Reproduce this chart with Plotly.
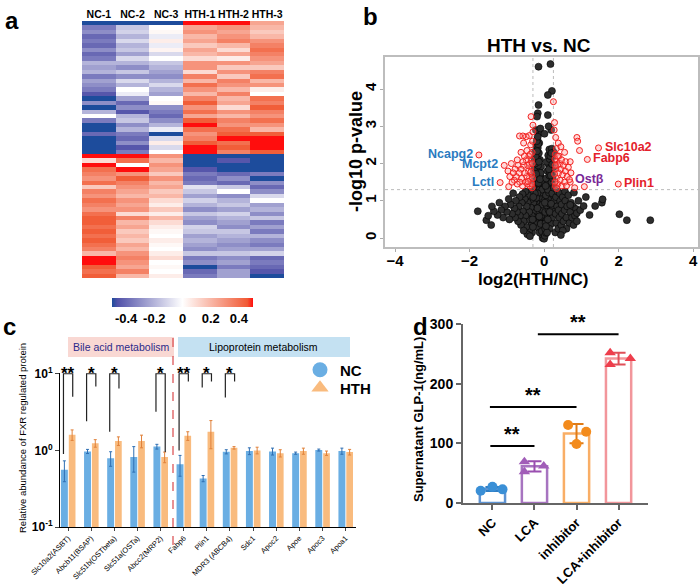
import plotly.graph_objects as go

W, H = 700, 584
FONT = "Arial, Liberation Sans, sans-serif"


def fx(p):
    return p / W


def fy(p):
    return 1 - p / H


# ---------------------------------------------------------------------------
# a: heatmap (rows top -> bottom, columns NC-1..HTH-3)
# ---------------------------------------------------------------------------
hm_cols = ["NC-1", "NC-2", "NC-3", "HTH-1", "HTH-2", "HTH-3"]
hm_upper = [
    [-0.6, -0.6, -0.6, 0.6, 0.6, 0.25],
    [-0.35, -0.15, 0.0, 0.25, 0.3, 0.2],
    [-0.3, -0.12, 0.02, 0.3, 0.25, 0.15],
    [-0.4, -0.2, -0.05, 0.2, 0.3, 0.2],
    [-0.35, -0.1, 0.05, 0.25, 0.35, 0.3],
    [-0.4, -0.2, -0.05, 0.15, 0.2, 0.35],
    [-0.3, -0.15, 0.03, 0.25, 0.1, 0.4],
    [-0.4, -0.25, -0.1, 0.2, 0.25, 0.35],
    [-0.35, -0.1, 0.0, 0.1, 0.05, 0.3],
    [-0.2, -0.2, -0.15, 0.3, 0.3, 0.25],
    [-0.25, -0.3, -0.2, 0.3, 0.15, 0.15],
    [-0.2, -0.15, -0.25, 0.1, 0.3, 0.35],
    [-0.35, -0.3, -0.3, 0.35, 0.15, 0.4],
    [-0.25, -0.1, -0.2, 0.2, 0.35, 0.2],
    [-0.3, -0.2, -0.1, 0.4, 0.3, 0.3],
    [-0.35, 0.0, -0.2, 0.3, 0.2, 0.05],
    [-0.45, -0.05, -0.25, 0.2, 0.35, 0.0],
    [-0.6, -0.25, 0.0, 0.35, 0.2, 0.4],
    [-0.3, -0.4, 0.02, 0.45, 0.25, 0.35],
    [-0.5, -0.3, -0.3, 0.3, 0.1, 0.45],
    [-0.2, -0.45, -0.35, 0.4, 0.3, 0.35],
    [0.0, -0.2, -0.4, 0.25, 0.2, 0.3],
    [-0.35, -0.15, -0.3, 0.45, 0.35, 0.4],
    [-0.6, -0.3, -0.2, 0.5, 0.3, 0.3],
    [-0.6, -0.2, -0.05, 0.4, 0.4, 0.2],
    [-0.4, -0.35, -0.55, 0.3, 0.45, 0.45],
    [-0.6, -0.4, -0.1, 0.35, 0.5, 0.6],
    [-0.6, -0.3, 0.05, 0.45, 0.4, 0.5],
    [-0.6, -0.45, -0.1, 0.5, 0.45, 0.6],
    [-0.6, -0.35, 0.0, 0.6, 0.35, 0.45],
]
hm_lower = [
    [0.5, 0.6, 0.3, -0.6, -0.5, -0.6],
    [0.1, 0.4, 0.2, -0.55, -0.45, -0.6],
    [0.6, 0.0, 0.3, -0.6, -0.5, -0.6],
    [0.4, 0.5, 0.25, -0.45, -0.55, -0.5],
    [0.35, 0.3, 0.15, -0.35, -0.4, -0.35],
    [0.3, 0.45, 0.3, -0.4, -0.3, -0.6],
    [0.4, 0.35, 0.2, -0.35, -0.4, -0.3],
    [0.15, 0.3, 0.25, -0.08, -0.15, -0.4],
    [0.35, 0.25, 0.15, -0.15, 0.0, -0.3],
    [0.3, 0.2, 0.2, -0.25, -0.3, -0.1],
    [0.4, 0.3, 0.1, -0.12, -0.2, 0.0],
    [0.35, 0.25, 0.05, -0.2, -0.15, -0.25],
    [0.3, 0.3, 0.15, -0.3, -0.25, -0.2],
    [0.4, 0.1, 0.05, -0.15, -0.12, -0.3],
    [0.45, 0.35, 0.2, -0.25, -0.2, -0.15],
    [0.45, 0.2, 0.1, -0.3, -0.25, -0.35],
    [0.4, 0.25, 0.05, -0.12, -0.3, -0.25],
    [0.45, 0.15, 0.02, -0.15, -0.15, -0.35],
    [0.4, 0.2, 0.0, -0.25, -0.2, -0.2],
    [0.45, 0.15, 0.05, -0.2, -0.25, -0.3],
    [0.4, 0.25, 0.02, -0.25, -0.3, -0.35],
    [0.35, 0.2, 0.0, -0.3, -0.25, -0.25],
    [0.2, 0.3, 0.05, -0.15, -0.15, -0.12],
    [0.6, 0.35, 0.1, -0.35, -0.3, -0.4],
    [0.6, 0.3, 0.0, -0.3, -0.25, -0.35],
    [0.45, 0.25, 0.02, -0.6, -0.35, -0.4],
    [0.4, 0.35, 0.0, -0.4, -0.25, -0.45],
    [0.45, 0.2, 0.05, -0.35, -0.25, -0.5],
]
hm_rows = hm_upper + hm_lower
hm_ticks = [-0.4, -0.2, 0, 0.2, 0.4]

# ---------------------------------------------------------------------------
# b: volcano plot (log2 fold change, -log10 p)
# ---------------------------------------------------------------------------
ns_points = [
    # left lobe of the core
    (-0.04, 0.0), (-0.02, 0.08), (-0.06, 0.1), (-0.08, 0.22), (-0.04, 0.3), (-0.11, 0.32),
    (-0.07, 0.42), (-0.14, 0.45), (-0.1, 0.55), (-0.05, 0.6), (-0.17, 0.6), (-0.13, 0.7),
    (-0.2, 0.72), (-0.08, 0.78), (-0.16, 0.85), (-0.23, 0.88), (-0.11, 0.95), (-0.19, 1.0),
    (-0.26, 1.02), (-0.06, 1.05), (-0.14, 1.1), (-0.22, 1.15), (-0.09, 1.22), (-0.28, 1.25),
    (-0.17, 1.28), (-0.24, 1.38), (-0.12, 1.4), (-0.2, 1.48), (-0.07, 1.5), (-0.28, 1.52),
    (-0.15, 1.58), (-0.23, 1.65), (-0.1, 1.68), (-0.19, 1.75), (-0.27, 1.8), (-0.13, 1.85),
    (-0.08, 1.92), (-0.22, 1.95), (-0.17, 2.02), (-0.26, 2.08), (-0.11, 2.1), (-0.2, 2.2),
    (-0.14, 2.28), (-0.24, 2.32), (-0.17, 2.42), (-0.21, 2.5), (-0.13, 2.55), (-0.18, 2.65),
    (-0.15, 2.8), (-0.22, 2.9), (-0.12, 1.3), (-0.25, 1.9), (-0.16, 1.95), (-0.05, 1.3),
    (-0.04, 0.9), (-0.29, 0.95), (-0.3, 0.7), (-0.25, 0.55), (-0.2, 0.4), (-0.16, 0.28),
    (-0.12, 0.15), (-0.27, 0.4), (-0.22, 1.55), (-0.09, 1.75), (-0.18, 1.2),
    (-0.06, 0.18), (-0.09, 0.38), (-0.13, 0.58), (-0.18, 0.8), (-0.21, 1.08), (-0.25, 1.2),
    (-0.26, 1.6), (-0.21, 1.72), (-0.15, 1.48), (-0.11, 1.58), (-0.24, 2.0), (-0.19, 2.12),
    (-0.14, 2.05), (-0.23, 2.2), (-0.19, 2.33), (-0.16, 2.52), (-0.2, 2.6), (-0.17, 2.72),
    # right lobe of the core
    (0.0, -0.02), (0.02, 0.06), (0.05, 0.14), (0.03, 0.25), (0.08, 0.3), (0.11, 0.4),
    (0.06, 0.48), (0.14, 0.52), (0.09, 0.62), (0.17, 0.65), (0.03, 0.7), (0.12, 0.75),
    (0.2, 0.8), (0.07, 0.88), (0.15, 0.92), (0.23, 0.98), (0.1, 1.05), (0.18, 1.1),
    (0.25, 1.15), (0.05, 1.15), (0.13, 1.22), (0.21, 1.3), (0.08, 1.35), (0.16, 1.4),
    (0.24, 1.45), (0.11, 1.52), (0.19, 1.58), (0.06, 1.6), (0.14, 1.68), (0.22, 1.72),
    (0.09, 1.8), (0.17, 1.85), (0.25, 1.9), (0.12, 1.98), (0.2, 2.02), (0.07, 2.05),
    (0.15, 2.12), (0.23, 2.18), (0.11, 2.22), (0.18, 2.3), (0.14, 2.38), (0.21, 2.4),
    (0.26, 2.3), (0.04, 0.4), (0.22, 0.55), (0.26, 0.7), (0.18, 0.38), (0.14, 0.25),
    (0.08, 0.15), (0.27, 1.0), (0.2, 1.5), (0.1, 1.3), (0.16, 1.75), (0.04, 1.4), (0.02, 0.95),
    (0.05, 0.32), (0.1, 0.5), (0.15, 0.7), (0.19, 0.92), (0.22, 1.2), (0.26, 1.35),
    (0.23, 1.6), (0.18, 1.68), (0.13, 1.85), (0.22, 1.98), (0.17, 2.2), (0.2, 2.28),
    # non-significant spread, left
    (-0.32, 0.15), (-0.35, 0.35), (-0.33, 0.6), (-0.36, 0.82), (-0.34, 1.05), (-0.38, 1.25),
    (-0.4, 0.2), (-0.42, 0.5), (-0.4, 0.7), (-0.44, 0.95), (-0.43, 1.15), (-0.48, 0.3),
    (-0.5, 0.6), (-0.47, 0.85), (-0.52, 1.05), (-0.5, 1.25), (-0.55, 0.45), (-0.57, 0.72),
    (-0.6, 0.95), (-0.58, 1.18), (-0.62, 0.35), (-0.65, 0.6), (-0.68, 0.85), (-0.66, 1.1),
    (-0.7, 0.45), (-0.73, 0.7), (-0.76, 1.0), (-0.78, 0.55), (-0.8, 0.8), (-0.83, 1.2),
    (-0.86, 0.65), (-0.9, 0.9), (-0.93, 0.5), (-0.95, 1.05), (-1.0, 0.7), (-1.05, 0.85),
    (-1.1, 0.55), (-1.15, 0.75), (-1.2, 0.95), (-1.25, 0.62), (-1.35, 0.72), (-1.4, 0.85),
    (-1.42, 0.35), (-1.55, 0.48), (-1.5, 0.6), (-1.78, 0.72), (-0.3, 0.3), (-0.31, 0.5),
    (-0.29, 1.1), (-0.45, 0.1), (-0.55, 0.2), (-0.38, 0.05),
    # non-significant spread, right
    (0.3, 0.15), (0.33, 0.4), (0.31, 0.65), (0.35, 0.85), (0.32, 1.1), (0.36, 1.25),
    (0.38, 0.25), (0.41, 0.55), (0.39, 0.75), (0.43, 1.0), (0.42, 1.2), (0.46, 0.35),
    (0.48, 0.65), (0.47, 0.9), (0.5, 1.1), (0.52, 0.45), (0.55, 0.75), (0.57, 1.0),
    (0.56, 1.25), (0.6, 0.55), (0.62, 0.85), (0.65, 1.15), (0.68, 0.4), (0.7, 0.7),
    (0.72, 0.95), (0.75, 0.55), (0.78, 0.85), (0.8, 1.22), (0.83, 0.6), (0.86, 0.78),
    (0.88, 0.67), (0.92, 1.0), (0.97, 0.75), (1.06, 0.86), (1.12, 1.1), (1.22, 0.62),
    (1.37, 0.86), (1.55, 0.95), (1.57, 1.04), (2.02, 0.64), (2.22, 0.48), (2.85, 0.48),
    (0.79, 0.35), (0.7, 0.89), (0.88, 0.45), (0.6, 0.25), (0.5, 0.2), (0.45, 0.08),
    # high points inside the fold-change cut-off
    (-0.15, 4.6), (0.17, 4.67), (0.21, 3.95), (0.1, 3.84), (-0.15, 3.57), (-0.17, 3.35),
    (-0.19, 3.26), (0.1, 3.3), (-0.1, 2.94), (0.19, 2.9), (0.01, 2.8), (0.12, 3.0),
]
sig_points = [
    # down-regulated
    (-0.32, 1.35), (-0.35, 1.5), (-0.33, 1.7), (-0.36, 1.9), (-0.34, 2.1), (-0.32, 2.3),
    (-0.38, 1.4), (-0.4, 1.6), (-0.42, 1.8), (-0.39, 2.0), (-0.41, 2.2), (-0.45, 1.45),
    (-0.47, 1.65), (-0.44, 1.95), (-0.48, 2.1), (-0.46, 2.35), (-0.5, 1.5), (-0.52, 1.75),
    (-0.55, 1.95), (-0.53, 2.2), (-0.58, 1.4), (-0.6, 1.6), (-0.62, 1.85), (-0.57, 2.05),
    (-0.65, 1.5), (-0.67, 1.75), (-0.7, 1.95), (-0.72, 1.45), (-0.75, 1.65), (-0.78, 1.85),
    (-0.8, 1.55), (-0.83, 1.75), (-0.86, 1.5), (-0.88, 2.0), (-0.92, 1.65), (-0.95, 1.38),
    (-0.97, 1.8), (-0.36, 2.5), (-0.31, 2.6), (-0.4, 2.75), (-0.48, 2.72), (-0.57, 2.74),
    (-0.66, 2.74), (-0.55, 2.55), (-0.35, 3.26), (-0.3, 3.03), (-0.3, 2.85), (-0.62, 2.3),
    (-0.72, 2.1), (-1.75, 2.23), (-1.07, 1.95), (-1.18, 1.49),
    (-0.31, 1.6), (-0.33, 1.45), (-0.35, 1.78), (-0.32, 2.0), (-0.37, 2.25), (-0.43, 1.52),
    # up-regulated
    (0.3, 1.4), (0.33, 1.6), (0.31, 1.85), (0.34, 2.05), (0.3, 2.25), (0.37, 1.45),
    (0.39, 1.75), (0.36, 1.95), (0.4, 2.2), (0.43, 1.55), (0.45, 1.85), (0.42, 2.0),
    (0.48, 1.4), (0.5, 1.7), (0.47, 2.1), (0.52, 1.95), (0.55, 1.5), (0.57, 1.8),
    (0.6, 1.4), (0.62, 1.65), (0.58, 2.05), (0.65, 1.9), (0.7, 1.5), (0.72, 1.75),
    (0.33, 2.4), (0.38, 2.55), (0.31, 2.7), (0.27, 2.9), (0.25, 3.66), (0.28, 3.1),
    (0.45, 2.45), (0.55, 2.3), (0.7, 2.05), (0.88, 2.7), (0.9, 2.6), (0.95, 2.35),
    (1.16, 2.11), (1.46, 2.42), (1.99, 1.45), (1.08, 1.38), (0.82, 1.35), (0.68, 1.57),
    (0.29, 1.5), (0.28, 1.72), (0.3, 1.95), (0.29, 2.12), (0.34, 1.33), (0.36, 2.2),
]
ns_x = [p[0] for p in ns_points]
ns_y = [p[1] for p in ns_points]
sig_x = [p[0] for p in sig_points]
sig_y = [p[1] for p in sig_points]

gene_labels = ["Ncapg2", "Mcpt2", "Lctl", "Slc10a2", "Fabp6", "Ostβ", "Plin1"]
gene_x = [-1.75, -1.07, -1.18, 1.46, 1.16, 0.68, 1.99]
gene_y = [2.23, 1.95, 1.49, 2.42, 2.11, 1.57, 1.45]
gene_side = ["left", "left", "left", "right", "right", "right", "right"]
gene_color = ["#2A7BC0", "#2A7BC0", "#2A7BC0", "#E3222B", "#E3222B", "#7A2796", "#E3222B"]
fc_cut = [-0.3, 0.25]
p_cut = 1.3

# ---------------------------------------------------------------------------
# c: FXR regulated proteins (relative abundance, log axis)
# ---------------------------------------------------------------------------
proteins = ["Slc10a2(ASBT)", "Abcb11(BSAP)", "Slc51b(OSTbeta)", "Slc51a(OSTa)", "Abcc2(MRP2)",
            "Fabp6", "Plin1", "MDR3 (ABCB4)", "Sdc1", "Apoc2", "Apoe", "Apoc3", "Apoa1"]
nc_mean = [0.56, 0.97, 0.79, 0.82, 1.12, 0.66, 0.43, 0.96, 0.98, 0.97, 0.92, 1.01, 0.98]
nc_err = [0.17, 0.06, 0.17, 0.30, 0.08, 0.20, 0.04, 0.06, 0.10, 0.10, 0.03, 0.03, 0.09]
hth_mean = [1.60, 1.24, 1.33, 1.33, 0.82, 1.55, 1.75, 1.08, 1.00, 0.92, 0.98, 0.92, 0.95]
hth_err = [0.25, 0.14, 0.17, 0.25, 0.13, 0.20, 0.70, 0.04, 0.10, 0.10, 0.09, 0.06, 0.08]
# significance brackets: (protein index, left leg start, right leg end, stars)
sig_brackets = [(0, 0.9, 5.0, "**"), (1, 2.4, 6.8, "*"), (2, 1.75, 6.4, "*"),
                (4, 3.2, 0.95, "*"), (5, 1.0, 7.9, "**"), (6, 6.6, 7.9, "*"), (7, 4.9, 7.9, "*")]
bracket_top = 10

# ---------------------------------------------------------------------------
# d: supernatant GLP-1
# ---------------------------------------------------------------------------
groups = ["NC", "LCA", "inhibitor", "LCA+inhibitor"]
glp_mean = [23.6, 61.5, 116.3, 242.0]
glp_sd = [3.4, 8.5, 16.0, 10.0]
glp_reps = [[20.6, 27.3, 22.9], [69.0, 62.0, 52.5], [130.7, 119.5, 98.8], [252.0, 242.0, 232.0]]
glp_jitter = [[-0.28, 0.0, 0.24], [-0.24, 0.22, -0.24], [-0.2, 0.23, 0.0], [-0.2, 0.28, -0.2]]
glp_symbol = ["circle", "triangle-up", "circle", "triangle-up"]
glp_bar_col = ["#5E93D2", "#A774C0", "#F9AE66", "#F2969B"]
glp_pt_col = ["#3A8FD6", "#A15DB8", "#F38B1C", "#EE3E4C"]
glp_err_col = ["#2F7EC4", "#9A4FB0", "#E07B16", "#E04F58"]
# comparisons: (x start, x end, y, label)
glp_comparisons = [(-0.05, 1.0, 95.5, "**"), (-0.06, 2.0, 161, "**"), (1.08, 3.0, 283, "**")]

fig = go.Figure()

# a
fig.add_trace(go.Heatmap(
    z=hm_rows, x=hm_cols, y=list(range(len(hm_rows))), xaxis="x", yaxis="y",
    zmin=-0.5, zmax=0.5,
    colorscale=[[0, "#1D4C9C"], [0.04, "#5252A9"], [0.5, "#FFFFFF"],
                [0.96, "#F15A35"], [1, "#FF0D0D"]],
    colorbar=dict(orientation="h", x=fx(182.5), xanchor="center", y=fy(288), yanchor="top",
                  len=161 / W, lenmode="fraction", thickness=9, outlinewidth=0,
                  tickvals=hm_ticks, ticktext=["-0.4", "-0.2", "0", "0.2", "0.4"], ticks="",
                  tickfont=dict(family=FONT, size=13, color="black", weight="bold")),
))

# b
fig.add_trace(go.Scatter(
    x=ns_x, y=ns_y, mode="markers", xaxis="x2", yaxis="y2", showlegend=False,
    marker=dict(size=7, color="#2E2E2E", line=dict(color="#000000", width=0.6)),
))
fig.add_trace(go.Scatter(
    x=sig_x, y=sig_y, mode="markers", xaxis="x2", yaxis="y2", showlegend=False,
    marker=dict(size=6, color="rgba(255,150,150,0.35)", line=dict(color="#F2201E", width=1)),
))

# c
fig.add_trace(go.Bar(
    x=list(range(len(proteins))), y=nc_mean, xaxis="x3", yaxis="y3", name="NC",
    width=0.3, offset=-0.31, marker=dict(color="#6AAEE3", line=dict(width=0)),
    error_y=dict(type="data", array=nc_err, color="#2F6FB3", thickness=1, width=1.5),
    showlegend=False,
))
fig.add_trace(go.Bar(
    x=list(range(len(proteins))), y=hth_mean, xaxis="x3", yaxis="y3", name="HTH",
    width=0.29, offset=0.03, marker=dict(color="#F9BB7E", line=dict(width=0)),
    error_y=dict(type="data", array=hth_err, color="#E0813A", thickness=1, width=1.5),
    showlegend=False,
))
for idx, left_y, right_y, stars in sig_brackets:
    fig.add_trace(go.Scatter(
        x=[idx - 0.2, idx - 0.2, idx + 0.2, idx + 0.2],
        y=[left_y, bracket_top, bracket_top, right_y],
        mode="lines", xaxis="x3", yaxis="y3", showlegend=False, hoverinfo="skip",
        line=dict(color="#222222", width=1.2),
    ))
fig.add_trace(go.Scatter(
    x=[None], y=[None], mode="markers", xaxis="x3", yaxis="y3", name="NC", legend="legend",
    marker=dict(symbol="circle", size=15, color="#6AAEE3"),
))
fig.add_trace(go.Scatter(
    x=[None], y=[None], mode="markers", xaxis="x3", yaxis="y3", name="HTH", legend="legend2",
    marker=dict(symbol="triangle-up", size=15, color="#F9BB7E"),
))

# d
for i, g in enumerate(groups):
    fig.add_trace(go.Bar(
        x=[i], y=[glp_mean[i]], xaxis="x4", yaxis="y4", width=0.6, showlegend=False,
        marker=dict(color="white", line=dict(color=glp_bar_col[i], width=2.5)),
        error_y=dict(type="data", array=[glp_sd[i]], color=glp_err_col[i], thickness=2, width=7),
    ))
    fig.add_trace(go.Scatter(
        x=[i + j for j in glp_jitter[i]], y=glp_reps[i], mode="markers",
        xaxis="x4", yaxis="y4", showlegend=False,
        marker=dict(symbol=glp_symbol[i], size=10, color=glp_pt_col[i]),
    ))
for x0, x1, yv, lab in glp_comparisons:
    fig.add_trace(go.Scatter(
        x=[x0, x1], y=[yv, yv], mode="lines", xaxis="x4", yaxis="y4", showlegend=False,
        line=dict(color="black", width=2),
    ))

annotations = []
shapes = []


def paper_text(text, px, py, size, color="black", angle=0):
    return dict(text=text, x=fx(px), y=fy(py), xref="paper", yref="paper", showarrow=False,
                xanchor="center", yanchor="middle", textangle=angle,
                font=dict(family=FONT, size=size, color=color))


# panel letters
for letter, (lx, ly) in zip("abcd", [(12, 20), (370, 17), (9, 326), (420, 326)]):
    annotations.append(paper_text(f"<b>{letter}</b>", lx, ly, 24))

# b titles and gene labels
annotations.append(paper_text("<b>HTH vs. NC</b>", 539, 45, 19))
annotations.append(paper_text("<b>log2(HTH/NC)</b>", 533, 280, 17))
annotations.append(paper_text("<b>-log10 p-value</b>", 356, 152, 18, angle=-90))
for lab, gx, gy, side, col in zip(gene_labels, gene_x, gene_y, gene_side, gene_color):
    annotations.append(dict(text=f"<b>{lab}</b>", x=gx, y=gy, xref="x2", yref="y2",
                            showarrow=False, xanchor="right" if side == "left" else "left",
                            yanchor="middle",
                            xshift=-4 if side == "left" else 4, yshift=1,
                            font=dict(family=FONT, size=12.5, color=col)))
for xv in fc_cut:
    shapes.append(dict(type="line", xref="x2", yref="y2", x0=xv, x1=xv, y0=-0.24, y1=4.86,
                       line=dict(color="#BBBBBB", width=1, dash="dot"), layer="below"))
shapes.append(dict(type="line", xref="x2", yref="y2", x0=-4.27, x1=4.13, y0=p_cut, y1=p_cut,
                   line=dict(color="#BBBBBB", width=1, dash="dot"), layer="below"))

# c headers, divider, stars, y title
shapes.append(dict(type="rect", xref="paper", yref="paper", x0=fx(68), x1=fx(174), y0=fy(357),
                   y1=fy(337), fillcolor="#F9D8D3", line=dict(width=0), layer="below"))
shapes.append(dict(type="rect", xref="paper", yref="paper", x0=fx(178), x1=fx(350), y0=fy(357),
                   y1=fy(337), fillcolor="#C4E1F2", line=dict(width=0), layer="below"))
shapes.append(dict(type="line", xref="paper", yref="paper", x0=fx(173), x1=fx(173), y0=fy(545),
                   y1=fy(337), line=dict(color="#D9494B", width=1.2, dash="dash")))
annotations.append(paper_text("Bile acid metabolism", 121, 347, 10.5, color="#2B2A8A"))
annotations.append(paper_text("Lipoprotein metabolism", 263, 347, 10.5))
annotations.append(paper_text("Relative abundance of FXR regulated protein", 22, 438, 9.5,
                              angle=-90))
for idx, left_y, right_y, stars in sig_brackets:
    annotations.append(dict(text=f"<b>{stars}</b>", x=idx, y=1, xref="x3", yref="y3",
                            showarrow=False, xanchor="center", yanchor="middle", yshift=0,
                            font=dict(family=FONT, size=17, color="black")))

# d stars and y title
for x0, x1, yv, lab in glp_comparisons:
    annotations.append(dict(text=f"<b>{lab}</b>", x=(x0 + x1) / 2, y=yv, xref="x4", yref="y4",
                            showarrow=False, xanchor="center", yanchor="middle", yshift=12,
                            font=dict(family=FONT, size=20, color="black")))
annotations.append(paper_text("<b>Supernatant GLP-1(ng/mL)</b>", 418, 420, 13, angle=-90))

legend_common = dict(xanchor="left", yanchor="middle", itemsizing="trace",
                     bgcolor="rgba(0,0,0,0)", itemwidth=30,
                     font=dict(family=FONT, size=15, color="black", weight="bold"))

fig.update_layout(
    width=W, height=H, margin=dict(l=0, r=0, t=0, b=0, autoexpand=False),
    paper_bgcolor="white", plot_bgcolor="white",
    barmode="overlay",
    font=dict(family=FONT, color="black"),
    annotations=annotations, shapes=shapes,
    legend=dict(x=fx(300), y=fy(370), **legend_common),
    legend2=dict(x=fx(300), y=fy(388), **legend_common),
    # a
    xaxis=dict(domain=[fx(82), fx(284)], anchor="y", side="top", ticks="", showline=False,
               tickangle=0, automargin=False,
               tickfont=dict(family=FONT, size=10.5, color="black", weight="bold")),
    yaxis=dict(domain=[fy(278), fy(21)], anchor="x", autorange="reversed", visible=False),
    # b
    xaxis2=dict(domain=[fx(385), fx(698)], anchor="y2", range=[-4.27, 4.13],
                tickvals=[-4, -2, 0, 2, 4], ticks="outside", ticklen=3, tickcolor="#AAAAAA",
                ticklabelstandoff=-4,
                showline=True, linecolor="#BDBDBD", linewidth=1.5, mirror=True,
                showgrid=False, zeroline=False, automargin=False,
                tickfont=dict(family=FONT, size=15, color="black", weight="bold")),
    yaxis2=dict(domain=[fy(247), fy(57)], anchor="x2", range=[-0.24, 4.86],
                tickvals=[0, 1, 2, 3, 4], ticks="outside", ticklen=3, tickcolor="#AAAAAA",
                ticklabelstandoff=-2,
                tickangle=-90, showline=True, linecolor="#BDBDBD", linewidth=1.5, mirror=True,
                showgrid=False, zeroline=False, automargin=False,
                tickfont=dict(family=FONT, size=15, color="black", weight="bold")),
    # c
    xaxis3=dict(domain=[fx(60), fx(356)], anchor="y3", range=[-0.35, 12.45],
                tickvals=list(range(len(proteins))), ticktext=proteins, tickangle=-45,
                ticks="outside", ticklen=3, showline=True, linecolor="black", linewidth=1,
                showgrid=False, zeroline=False, automargin=False,
                tickfont=dict(family=FONT, size=7.5, color="black")),
    yaxis3=dict(domain=[fy(527), fy(373)], anchor="x3", type="log", range=[-1, 1.01],
                tickvals=[0.1, 1, 10],
                ticktext=["10<sup>-1</sup>", "10<sup>0</sup>", "10<sup>1</sup>"],
                ticks="outside", ticklen=4, showline=True, linecolor="black", linewidth=1,
                showgrid=False, zeroline=False, automargin=False,
                tickfont=dict(family=FONT, size=12, color="black", weight="bold")),
    # d
    xaxis4=dict(domain=[fx(463), fx(648)], anchor="y4", range=[-0.7, 3.7],
                tickvals=list(range(len(groups))), ticktext=groups, tickangle=-45,
                ticks="outside", ticklen=5, tickwidth=2, tickcolor="#666666",
                showline=True, linecolor="#666666", linewidth=2, showgrid=False, zeroline=False,
                automargin=False,
                tickfont=dict(family=FONT, size=13, color="black", weight="bold")),
    yaxis4=dict(domain=[fy(503), fy(324)], anchor="x4", range=[0, 300],
                tickvals=[0, 100, 200, 300], ticks="outside", ticklen=5, tickwidth=2,
                tickcolor="#666666", showline=True, linecolor="#666666", linewidth=2,
                showgrid=False, zeroline=False, automargin=False,
                tickfont=dict(family=FONT, size=14, color="black", weight="bold")),
)

# the page body has a default 8px margin; drop it so the figure sits at the window origin
fig.write_html("out.html", config={"displayModeBar": False},
               post_script="document.body.style.margin = '0px';")
